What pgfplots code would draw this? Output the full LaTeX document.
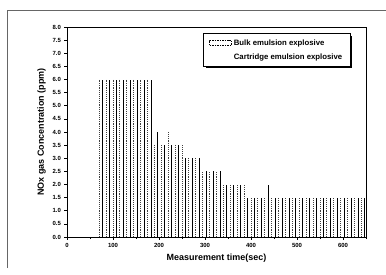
\documentclass[border=0pt]{standalone}
\usepackage{fontspec}
\setmainfont{Liberation Sans}
\usepackage{pgfplots}
\pgfplotsset{compat=1.18}

\pgfplotstableread{
t v
70 6.0
85 6.0
100 6.0
115 6.0
130 6.0
145 6.0
160 6.0
175 6.0
190 3.5
205 3.5
220 4.0
235 3.5
250 3.5
265 3.0
280 3.0
295 2.5
310 2.5
325 2.5
340 2.0
355 2.0
370 2.0
385 2.0
400 1.5
415 1.5
430 1.5
445 1.5
460 1.5
475 1.5
490 1.5
505 1.5
520 1.5
535 1.5
550 1.5
565 1.5
580 1.5
595 1.5
610 1.5
625 1.5
640 1.5
}\bulk

\pgfplotstableread{
t v
77.5 6.0
92.5 6.0
107.5 6.0
122.5 6.0
137.5 6.0
152.5 6.0
167.5 6.0
182.5 6.0
197.5 4.0
212.5 3.5
227.5 3.5
242.5 3.5
257.5 3.0
272.5 3.0
287.5 3.0
302.5 2.5
317.5 2.5
332.5 2.5
347.5 2.0
362.5 2.0
377.5 2.0
392.5 1.5
407.5 1.5
422.5 1.5
437.5 2.0
452.5 1.5
467.5 1.5
482.5 1.5
497.5 1.5
512.5 1.5
527.5 1.5
542.5 1.5
557.5 1.5
572.5 1.5
587.5 1.5
602.5 1.5
617.5 1.5
632.5 1.5
647.5 1.5
}\cartridge

\begin{document}
\begin{tikzpicture}
\draw[black!60, line width=0.5pt] (-60bp,-31bp) -- (-60bp,227bp) -- (319bp,227bp);
\begin{axis}[
  at={(0,0)}, anchor=south west,
  scale only axis, width=299bp, height=210bp,
  xmin=0, xmax=650, ymin=0, ymax=8,
  xtick={0,100,...,600}, minor xtick={50,150,...,650},
  ytick={0,0.5,...,8},
  tick align=outside, xtick pos=bottom, ytick pos=left,
  major tick length=2.5bp, minor tick length=1.5bp,
  tick style={black, line width=0.6pt},
  axis line style={black, line width=0.7pt},
  /pgf/number format/assume math mode=true,
  yticklabel style={/pgf/number format/.cd, fixed, fixed zerofill, precision=1},
  xticklabel style={/pgf/number format/.cd, fixed, precision=0},
  ticklabel style={font=\bfseries\fontsize{6}{7}\selectfont},
  xlabel={Measurement time(sec)}, ylabel={NOx gas Concentration (ppm)},
  label style={font=\bfseries\fontsize{9}{10}\selectfont},
  legend style={at={(0.455,0.971)}, anchor=north west, draw=black, line width=0.6pt,
    fill=white, font=\bfseries\fontsize{7.8}{9}\selectfont, cells={anchor=west},
    inner xsep=6bp, inner ysep=4bp, row sep=3bp, name=leg},
]
\addplot[ycomb, black!75, densely dotted, line width=0.9pt,
  legend image code/.code={\draw[black, dash pattern=on 1.5pt off 1pt, line width=0.5pt] (0bp,-2.5bp) rectangle (22bp,2.5bp);}]
  table[x=t, y=v] {\bulk};
\addlegendentry{Bulk emulsion explosive}
\addplot[ycomb, black, line width=0.7pt,
  legend image code/.code={\path[draw=none, fill=none] (0bp,-2.5bp) rectangle (22bp,2.5bp);}]
  table[x=t, y=v] {\cartridge};
\addlegendentry{Cartridge emulsion explosive}
\end{axis}
\draw[black, line width=1.3bp] ([xshift=0.8bp,yshift=-3bp]leg.north east) -- ([xshift=0.8bp,yshift=-0.8bp]leg.south east) -- ([xshift=3bp,yshift=-0.8bp]leg.south west);
\pgfresetboundingbox
\path (-67bp,-38bp) rectangle (319bp,237bp);
\end{tikzpicture}
\end{document}
